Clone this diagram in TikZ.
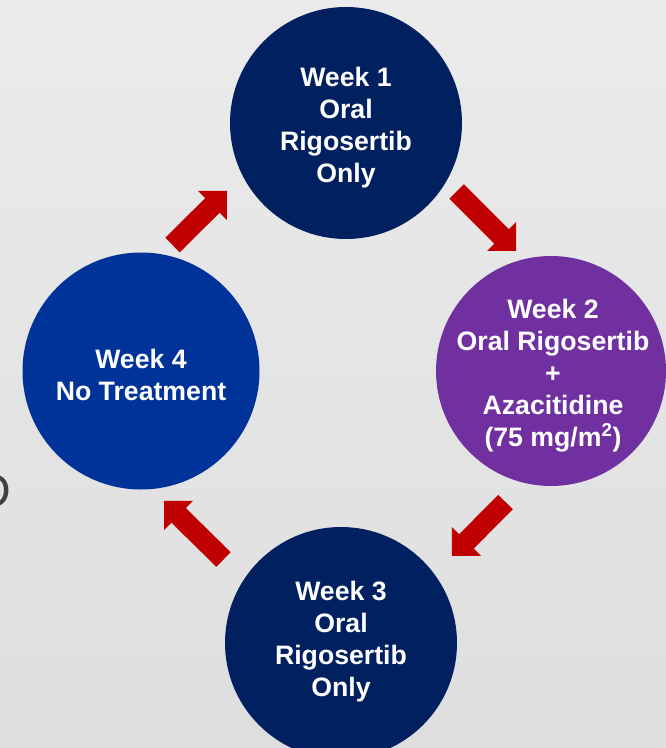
\documentclass[tikz,border=0pt]{standalone}
\usepackage{fontspec}
\setmainfont{Liberation Sans}
\usetikzlibrary{calc}
\definecolor{navy}{HTML}{002060}
\definecolor{royal}{HTML}{003399}
\definecolor{purp}{HTML}{7030A0}
\definecolor{arrowred}{HTML}{C00000}
\definecolor{bgtop}{HTML}{EBEBEB}
\definecolor{bgbot}{HTML}{DEDEDE}
\definecolor{glyphgray}{HTML}{404040}
\newcommand{\redarrow}[3]{%
  \coordinate (#3-b) at ($(#2)!15.375pt!(#1)$);
  \fill[arrowred] ($(#1)!7.6875pt!90:(#2)$) -- ($(#3-b)!7.6875pt!90:(#2)$)
    -- ($(#3-b)!15.375pt!90:(#2)$) -- (#2) -- ($(#3-b)!15.375pt!-90:(#2)$)
    -- ($(#3-b)!7.6875pt!-90:(#2)$) -- ($(#1)!7.6875pt!-90:(#2)$) -- cycle;}
\begin{document}
\begin{tikzpicture}[x=0.75pt,y=-0.75pt,
  disc/.style={circle, inner sep=0pt, draw=none},
  wk/.style={inner sep=0pt, text=white, align=center,
    font=\bfseries\fontsize{20}{24}\selectfont}]
\clip (0,0) rectangle (666,748);
\useasboundingbox (0,0) rectangle (666,748);
\shade[top color=bgtop, bottom color=bgbot] (0,0) rectangle (666,748);

\node[anchor=base east, inner sep=0pt, text=glyphgray,
  font=\fontsize{36}{36}\selectfont] (cut) at (11,507) {D};

\node[disc, fill=navy, minimum size=174pt] (w1) at (346,123) {};
\node[disc, fill=purp, minimum size=172.5pt] (w2) at (551,371) {};
\node[disc, fill=navy, minimum size=174pt] (w3) at (341,643) {};
\node[disc, fill=royal, minimum size=177.75pt] (w4) at (141,371) {};

\node[wk] (t1) at (346,128) {Week 1\\Oral\\Rigosertib\\Only};
\node[wk] (t2) at (553,376)
  {Week 2\\Oral Rigosertib\\+\\Azacitidine\\(75 mg/m\textsuperscript{2})};
\node[wk] (t3) at (341,642) {Week 3\\Oral\\Rigosertib\\Only};
\node[wk] (t4) at (141,375) {Week 4\\No Treatment};

\coordinate (a1t) at (172.5,245);  \coordinate (a1h) at (227,191);
\coordinate (a2t) at (456.5,191.5); \coordinate (a2h) at (516,251);
\coordinate (a3t) at (505.5,502);  \coordinate (a3h) at (452,556);
\coordinate (a4t) at (223.5,559.5); \coordinate (a4h) at (164,501);
\redarrow{a1t}{a1h}{a1}
\redarrow{a2t}{a2h}{a2}
\redarrow{a3t}{a3h}{a3}
\redarrow{a4t}{a4h}{a4}
\end{tikzpicture}
\end{document}
